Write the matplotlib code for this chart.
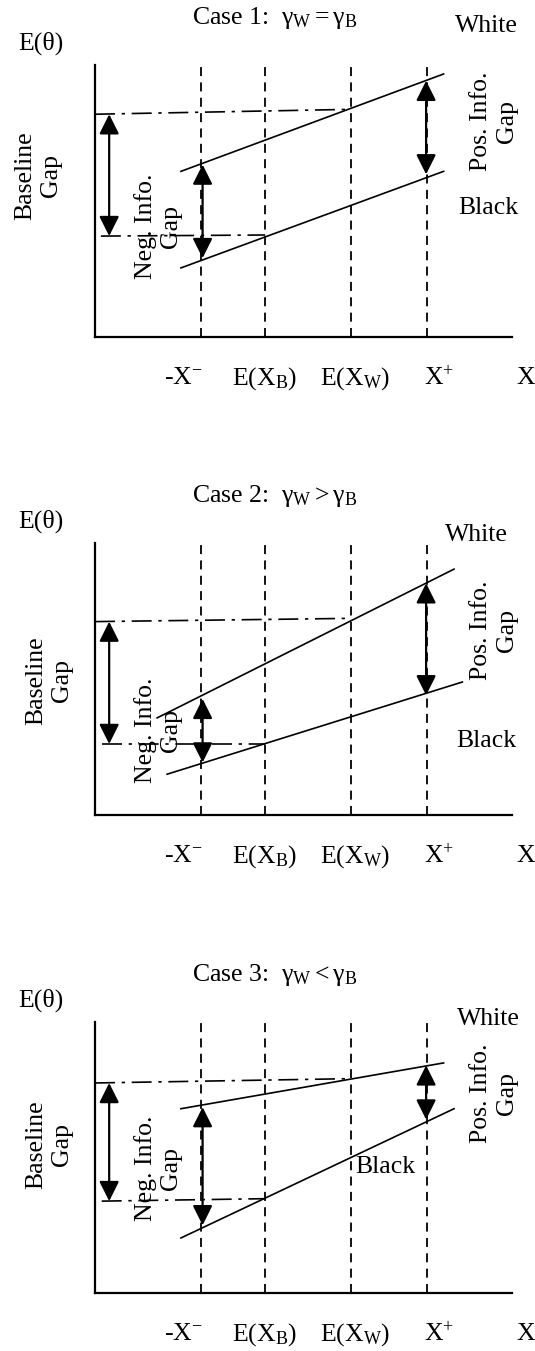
import matplotlib
matplotlib.use("Agg")
import matplotlib.pyplot as plt

plt.rcParams["font.family"] = ["Liberation Serif", "DejaVu Serif"]
plt.rcParams["mathtext.fontset"] = "custom"
plt.rcParams["mathtext.rm"] = "Liberation Serif"
plt.rcParams["mathtext.it"] = "Liberation Serif:italic"
plt.rcParams["mathtext.bf"] = "Liberation Serif:bold"

# ---- data (schematic units: x and y axes both run 0..10) ----
marker_x = [2.54, 4.08, 6.14, 7.96]          # -X-, E(XB), E(XW), X+
tick_labels = [r"-X$^{\mathrm{-}}$", r"E(X$_{\mathrm{B}}$)", r"E(X$_{\mathrm{W}}$)",
               r"X$^{\mathrm{+}}$", "X"]
tick_label_x = [2.12, 4.07, 6.24, 8.26, 10.33]

case_titles = [r"Case 1:  $\mathrm{γ_W = γ_B}$",
               r"Case 2:  $\mathrm{γ_W > γ_B}$",
               r"Case 3:  $\mathrm{γ_W < γ_B}$"]

white_x = [[2.06, 8.36], [1.49, 8.61], [2.06, 8.36]]
white_y = [[6.09, 9.67], [3.57, 9.04], [6.80, 8.49]]
black_x = [[2.06, 8.36], [1.73, 8.81], [2.06, 8.61]]
black_y = [[2.54, 6.09], [1.50, 4.89], [2.03, 6.80]]

base_top = [[8.19, 8.37], [7.11, 7.23], [7.75, 7.91]]   # y at axis, y at E(XW)
base_bot = [[3.71, 3.75], [2.61, 2.61], [3.39, 3.48]]   # y at start, y at E(XB)
base_bot_start = [0.14, 0.16, 0.16]

neg_gap = [[6.34, 2.90], [4.27, 1.93], [6.86, 2.50]]    # at -X-
pos_gap = [[9.42, 5.98], [8.52, 4.40], [8.40, 6.40]]    # at X+
arrow_x = [0.34, 2.58, 7.94]                            # baseline, neg, pos

# label positions per case
white_lab = [(9.39, 11.45), (9.14, 10.31), (9.43, 10.12)]
black_lab = [(9.43, 4.73), (9.39, 2.73), (6.97, 4.65)]
pos_lab = [(9.57, 7.94), (9.57, 6.80), (9.57, 7.36)]
neg_lab = [(1.51, 4.06), (1.51, 3.10), (1.51, 4.59)]
base_lab = [(-1.37, 5.92), (-1.10, 4.95), (-1.10, 5.49)]

# panel placement in pixels (top of y axis, x axis position)
W, H = 535, 1351
panel_top = [65, 543, 1022]
panel_bottom = [337, 815, 1293]
ax_left, ax_right = 95, 512

fs = 18.5
fig = plt.figure(figsize=(W / 100, H / 100), dpi=100)

arrow_style = "<|-|>,head_length=0.6,head_width=0.3"

for i in range(3):
    ax = fig.add_axes([ax_left / W, 1 - panel_bottom[i] / H,
                       (ax_right - ax_left) / W,
                       (panel_bottom[i] - panel_top[i]) / H])
    ax.set_xlim(0, 10)
    ax.set_ylim(0, 10)
    for s in ["top", "right"]:
        ax.spines[s].set_visible(False)
    for s in ["left", "bottom"]:
        ax.spines[s].set_linewidth(1.6)
    ax.set_xticks([])
    ax.set_yticks([])
    ax.patch.set_visible(False)

    # vertical reference lines
    for mx in marker_x:
        ax.plot([mx, mx], [0, 10], color="k", lw=1.3, ls=(0, (5, 3.5)),
                clip_on=False)

    # baseline dash-dot lines
    ax.plot([0, marker_x[2]], base_top[i], color="k", lw=1.2,
            ls=(0, (12, 4, 2, 4)), clip_on=False)
    ax.plot([base_bot_start[i], marker_x[1]], base_bot[i], color="k", lw=1.2,
            ls=(0, (12, 4, 2, 4)), clip_on=False)

    # group lines
    ax.plot(white_x[i], white_y[i], color="k", lw=1.2, clip_on=False)
    ax.plot(black_x[i], black_y[i], color="k", lw=1.2, clip_on=False)

    # gap arrows
    gaps = [(arrow_x[0], base_top[i][0], base_bot[i][0]),
            (arrow_x[1], neg_gap[i][0], neg_gap[i][1]),
            (arrow_x[2], pos_gap[i][0], pos_gap[i][1])]
    for gx, y0, y1 in gaps:
        ax.annotate("", xy=(gx, y1), xytext=(gx, y0),
                    arrowprops=dict(arrowstyle=arrow_style, lw=1.6, color="k",
                                    mutation_scale=20, shrinkA=0, shrinkB=0),
                    annotation_clip=False)

    # texts
    ax.text(4.31, 11.72, case_titles[i], ha="center", va="center",
            fontsize=fs, clip_on=False)
    ax.text(-1.29, 10.8, "E(θ)", ha="center", va="center", fontsize=fs,
            clip_on=False)
    ax.text(*white_lab[i], "White", ha="center", va="center", fontsize=fs,
            clip_on=False)
    ax.text(*black_lab[i], "Black", ha="center", va="center", fontsize=fs,
            clip_on=False)
    ax.text(*pos_lab[i], "Pos. Info.\nGap", ha="center", va="center",
            rotation=90, multialignment="center", fontsize=fs, clip_on=False)
    ax.text(*neg_lab[i], "Neg. Info.\nGap", ha="center", va="center",
            rotation=90, multialignment="center", fontsize=fs, clip_on=False)
    ax.text(*base_lab[i], "Baseline\nGap", ha="center", va="center",
            rotation=90, multialignment="center", fontsize=fs, clip_on=False)
    for tx, lab in zip(tick_label_x, tick_labels):
        ax.text(tx, -1.52, lab, ha="center", va="center", fontsize=fs,
                clip_on=False)

fig.savefig("out.png", dpi=100)
